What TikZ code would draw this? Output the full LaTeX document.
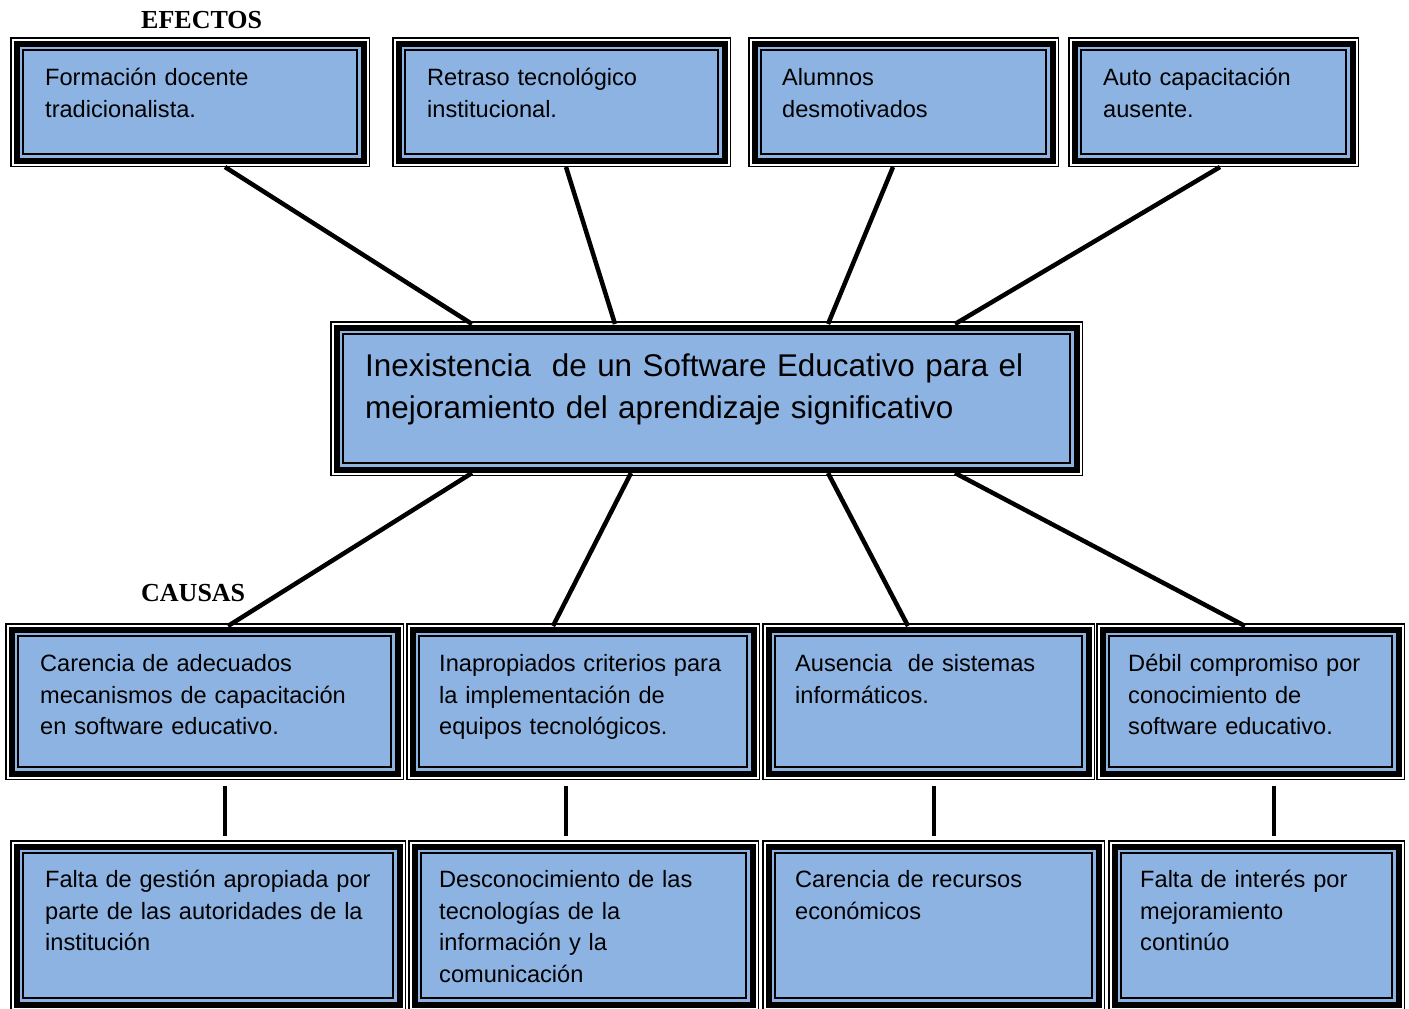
\documentclass[tikz,border=0pt]{standalone}
\usepackage{fontspec}
\setmainfont{Liberation Sans}
\newfontfamily\labfont{Liberation Serif}
\usetikzlibrary{fit}
\definecolor{boxblue}{RGB}{141,179,226}
\tikzset{
  conn/.style={line width=4.5pt},
  txt/.style={anchor=base west, inner sep=0, align=left, text width=400pt,
    font=\fontsize{23.6}{31.5}\selectfont},
  toptxt/.style={txt, font=\fontsize{23.6}{32}\selectfont},
  bigtxt/.style={txt, text width=720pt, font=\fontsize{31.4}{42}\selectfont},
  lab/.style={anchor=base west, inner sep=0, font=\labfont\bfseries\fontsize{26}{30}\selectfont},
  framenode/.style={inner sep=0, outer sep=0}
}
\newcommand\ornbox[5]{%
  \fill[white] (#2,#3) rectangle (#4,#5);
  \fill[boxblue] (#2+3.5,#3+3.5) rectangle (#4-3.5,#5-3.5);
  \draw[line width=1.5pt] (#2+0.75,#3+0.75) rectangle (#4-0.75,#5-0.75);
  \draw[line width=6pt] (#2+6.5,#3+6.5) rectangle (#4-6.5,#5-6.5);
  \draw[line width=2pt] (#2+13,#3+13) rectangle (#4-13,#5-13);
  \coordinate (#1-nw) at (#2,#3);
  \coordinate (#1-se) at (#4,#5);
  \node[framenode, fit=(#1-nw)(#1-se)] (#1) {};
}
\begin{document}
\begin{tikzpicture}[x=1pt,y=-1pt]
\useasboundingbox[fill=white] (0,0) rectangle (1409,1009);

% effects
\ornbox{e1}{10}{37}{370}{167}
\ornbox{e2}{392}{37}{731}{167}
\ornbox{e3}{748}{37}{1059}{167}
\ornbox{e4}{1068}{37}{1359}{167}
% central problem
\ornbox{c}{330}{321}{1083}{476}
% causes
\ornbox{k1}{5}{623}{404}{780}
\ornbox{k2}{406}{623}{760}{780}
\ornbox{k3}{762}{623}{1095}{780}
\ornbox{k4}{1096}{623}{1405}{780}
% sub-causes
\ornbox{b1}{10}{840}{406}{1011}
\ornbox{b2}{408}{840}{759}{1011}
\ornbox{b3}{762}{840}{1105}{1011}
\ornbox{b4}{1108}{840}{1405}{1011}

% labels
\node[lab] (lefe) at (141,28.3) {EFECTOS};
\node[lab] (lcau) at (141,601.7) {CAUSAS};

% texts
\node[toptxt] (te1) at (45,85.5) {Formación docente\\tradicionalista.};
\node[toptxt] (te2) at (427,85.5) {Retraso tecnológico\\institucional.};
\node[toptxt] (te3) at (782,85.5) {Alumnos\\desmotivados};
\node[toptxt] (te4) at (1103,85.5) {Auto capacitación\\ausente.};

\node[bigtxt] (tc) at (365,376) {Inexistencia\ \ de un Software Educativo para el\\mejoramiento del aprendizaje significativo};

\node[txt] (tk1) at (40,671.5) {Carencia de adecuados\\mecanismos de capacitación\\en software educativo.};
\node[txt] (tk2) at (439,671.5) {Inapropiados criterios para\\la implementación de\\equipos tecnológicos.};
\node[txt] (tk3) at (795,671.5) {Ausencia\ \ de sistemas\\informáticos.};
\node[txt] (tk4) at (1128,671.5) {Débil compromiso por\\conocimiento de\\software educativo.};

\node[txt] (tb1) at (45,887.5) {Falta de gestión apropiada por\\parte de las autoridades de la\\institución};
\node[txt] (tb2) at (439,887.5) {Desconocimiento de las\\tecnologías de la\\información y la\\comunicación};
\node[txt] (tb3) at (795,887.5) {Carencia de recursos\\económicos};
\node[txt] (tb4) at (1140,887.5) {Falta de interés por\\mejoramiento\\continúo};

% connectors: effects to problem
\draw[conn] ([xshift=35pt]e1.south) -- ([xshift=-234.5pt,yshift=-3pt]c.north);
\draw[conn] ([xshift=4.5pt]e2.south) -- ([xshift=-91.5pt,yshift=-3pt]c.north);
\draw[conn] ([xshift=-10.5pt]e3.south) -- ([xshift=121.5pt,yshift=-3pt]c.north);
\draw[conn] ([xshift=6.5pt]e4.south) -- ([xshift=248.5pt,yshift=-3pt]c.north);
% problem to causes
\draw[conn] ([xshift=-234.5pt,yshift=3pt]c.south) -- ([xshift=23.5pt,yshift=-3pt]k1.north);
\draw[conn] ([xshift=-75.5pt,yshift=3pt]c.south) -- ([xshift=-30pt,yshift=-3pt]k2.north);
\draw[conn] ([xshift=121.5pt,yshift=3pt]c.south) -- ([xshift=-20.5pt,yshift=-3pt]k3.north);
\draw[conn] ([xshift=248.5pt,yshift=3pt]c.south) -- ([xshift=-5.5pt,yshift=-3pt]k4.north);
% causes to sub-causes
\draw[conn, shorten <=6pt, shorten >=4pt] ([xshift=20.5pt]k1.south) -- ([xshift=20.5pt]k1.south |- b1.north);
\draw[conn, shorten <=6pt, shorten >=4pt] ([xshift=-17pt]k2.south) -- ([xshift=-17pt]k2.south |- b2.north);
\draw[conn, shorten <=6pt, shorten >=4pt] ([xshift=5.5pt]k3.south) -- ([xshift=5.5pt]k3.south |- b3.north);
\draw[conn, shorten <=6pt, shorten >=4pt] ([xshift=23.5pt]k4.south) -- ([xshift=23.5pt]k4.south |- b4.north);
\end{tikzpicture}
\end{document}
